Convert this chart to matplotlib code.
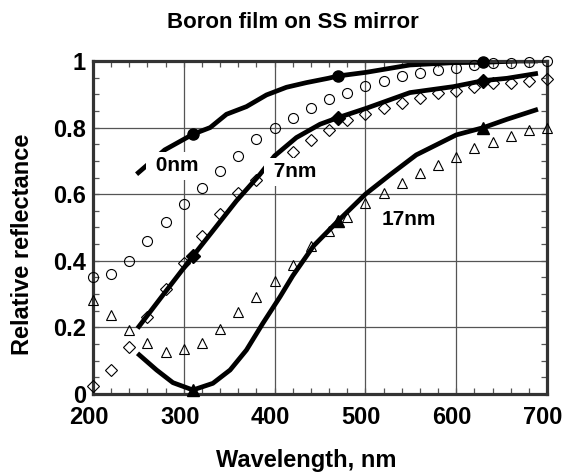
import numpy as np
import matplotlib
matplotlib.use("Agg")
import matplotlib.pyplot as plt
import matplotlib.transforms as mtransforms
from matplotlib.ticker import MultipleLocator, FixedLocator, FixedFormatter

plt.rcParams['font.family'] = ['Liberation Sans', 'DejaVu Sans']
plt.rcParams['font.weight'] = 'bold'

# measured data (open symbols), every 20 nm
wl_pts = [200, 220, 240, 260, 280, 300, 320, 340, 360, 380, 400, 420, 440,
          460, 480, 500, 520, 540, 560, 580, 600, 620, 640, 660, 680, 700]
r_0nm = [0.35, 0.36, 0.40, 0.46, 0.515, 0.57, 0.62, 0.67, 0.715, 0.765, 0.80, 0.83, 0.86,
         0.885, 0.905, 0.925, 0.94, 0.955, 0.963, 0.972, 0.98, 0.987, 0.993, 0.995, 0.998, 1.0]
r_7nm = [0.025, 0.072, 0.142, 0.23, 0.314, 0.392, 0.473, 0.54, 0.604, 0.643, 0.685, 0.728, 0.763,
         0.794, 0.823, 0.841, 0.858, 0.873, 0.888, 0.903, 0.911, 0.923, 0.933, 0.935, 0.941, 0.945]
r_17nm = [0.282, 0.237, 0.192, 0.154, 0.127, 0.135, 0.154, 0.195, 0.245, 0.292, 0.339, 0.387, 0.444,
          0.49, 0.532, 0.573, 0.603, 0.633, 0.665, 0.688, 0.713, 0.738, 0.756, 0.775, 0.793, 0.80]

# calculated curves (thick lines)
wl_c0 = [248, 279, 310, 329, 347, 369, 391, 413, 435, 459, 470, 501, 549, 597, 630, 670, 690]
c_0nm = [0.66, 0.733, 0.78, 0.80, 0.84, 0.863, 0.898, 0.921, 0.935, 0.948, 0.955, 0.966, 0.988,
         0.995, 0.996, 1.0, 1.0]
wl_c7 = [249, 277, 310, 332, 358, 384, 400, 424, 450, 470, 501, 549, 597, 630, 656, 690]
c_7nm = [0.197, 0.297, 0.414, 0.49, 0.58, 0.66, 0.715, 0.77, 0.81, 0.83, 0.858, 0.905, 0.923,
         0.941, 0.948, 0.963]
wl_c17 = [249, 270, 288, 310, 332, 351, 369, 387, 406, 420, 443, 470, 500, 527, 556, 600,
          630, 656, 690]
c_17nm = [0.122, 0.072, 0.034, 0.012, 0.032, 0.072, 0.132, 0.212, 0.292, 0.355, 0.445,
          0.52, 0.60, 0.658, 0.718, 0.778, 0.80, 0.825, 0.855]

# filled markers on the curves
wl_mark = [310, 470, 630]
m_0nm = [0.78, 0.955, 0.996]
m_7nm = [0.414, 0.83, 0.941]
m_17nm = [0.012, 0.52, 0.80]

fig = plt.figure(figsize=(5.64, 4.72), dpi=100)
ax = fig.add_axes([0.1649, 0.1653, 0.8050, 0.7055])

ax.grid(True, which='major', color='#555555', lw=0.9, zorder=0)
ax.set_axisbelow(True)

for xs, ys in [(wl_c0, c_0nm), (wl_c7, c_7nm), (wl_c17, c_17nm)]:
    ax.plot(xs, ys, color='black', lw=3.4, solid_capstyle='butt', zorder=2)

ax.plot(wl_pts, r_0nm, 'o', ms=7.2, mfc='none', mec='black', mew=0.8, clip_on=False, zorder=3)
ax.plot(wl_pts, r_7nm, 'D', ms=6.3, mfc='none', mec='black', mew=0.8, clip_on=False, zorder=3)
ax.plot(wl_pts, r_17nm, '^', ms=7.8, mfc='none', mec='black', mew=0.8, clip_on=False, zorder=3)

ax.plot(wl_mark, m_0nm, 'o', ms=8, color='black', clip_on=False, zorder=3)
ax.plot(wl_mark, m_7nm, 'D', ms=7, color='black', clip_on=False, zorder=3)
ax.plot(wl_mark, m_17nm, '^', ms=8.5, color='black', clip_on=False, zorder=3)

box = dict(boxstyle='square,pad=0.2', fc='white', ec='none')
ax.text(296, 0.685, ' 0nm  ', fontsize=15, fontweight='bold', ha='center', va='center', bbox=box, zorder=5)
ax.text(423, 0.667, ' 7nm ', fontsize=15, fontweight='bold', ha='center', va='center', bbox=box, zorder=5)
ax.text(548, 0.523, '17nm', fontsize=15, fontweight='bold', ha='center', va='center', bbox=box, zorder=5)

ax.set_xlim(200, 700)
ax.set_ylim(0, 1)
ax.xaxis.set_major_locator(MultipleLocator(100))
ax.xaxis.set_minor_locator(MultipleLocator(20))
ax.yaxis.set_major_locator(FixedLocator([0, 0.2, 0.4, 0.6, 0.8, 1.0]))
ax.yaxis.set_major_formatter(FixedFormatter(['0', '0.2', '0.4', '0.6', '0.8', '1']))
ax.yaxis.set_minor_locator(MultipleLocator(0.05))

ax.tick_params(which='both', direction='in', top=True, right=True, color='#555555', width=0.9)
ax.tick_params(which='major', length=4.5, labelsize=17)
ax.tick_params(which='minor', length=4.5)
ax.tick_params(axis='x', which='major', pad=9)
ax.tick_params(axis='y', which='major', pad=5)

# x tick labels sit a little left of their ticks in the original
shift = mtransforms.ScaledTranslation(-4 / 100, 0, fig.dpi_scale_trans)
for lab in ax.get_xticklabels():
    lab.set_transform(lab.get_transform() + shift)

for sp in ax.spines.values():
    sp.set_linewidth(2.3)
    sp.set_color('#333333')

ax.set_xlabel('Wavelength, nm', fontsize=17, fontweight='bold')
ax.xaxis.set_label_coords(0.469, -0.165)
ax.set_ylabel('Relative reflectance', fontsize=17, fontweight='bold', va='center')
ax.yaxis.set_label_coords(-0.156, 0.45)

fig.text(0.52, 0.953, 'Boron film on SS mirror', fontsize=16, fontweight='bold', ha='center', va='center')

fig.savefig('out.png', dpi=100)
